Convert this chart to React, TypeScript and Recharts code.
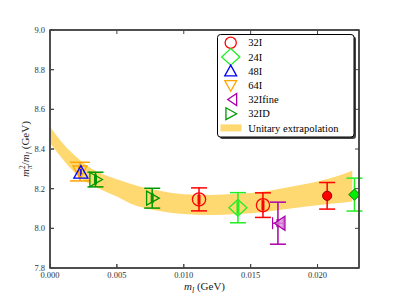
import React from "react";
import {
  Area,
  ComposedChart,
  ErrorBar,
  Label,
  Legend,
  Scatter,
  XAxis,
  YAxis,
} from "recharts";

// unitary extrapolation band (lower / upper edge)
const bandM = [0, 0.001, 0.002, 0.003, 0.004, 0.005, 0.006, 0.008, 0.01, 0.012, 0.014, 0.016, 0.018, 0.02, 0.022, 0.0226];
const bandLo = [8.43, 8.345, 8.272, 8.222, 8.19, 8.16, 8.125, 8.09, 8.072, 8.067, 8.072, 8.082, 8.1, 8.117, 8.13, 8.135];
const bandHi = [8.512, 8.425, 8.358, 8.305, 8.272, 8.248, 8.225, 8.192, 8.172, 8.168, 8.174, 8.186, 8.21, 8.236, 8.275, 8.292];

// ensembles
const m32I = [0.01114, 0.01592, 0.02072];
const v32I = [8.146, 8.117, 8.164];
const e32I = [0.058, 0.062, 0.067];
const s32I = [0.025, 0.025, 0.02];
const f32I = [false, false, true];

const m24I = [0.01405, 0.02276];
const v24I = [8.104, 8.17];
const e24I = [0.076, 0.083];
const s24I = [0.03, 0.02];
const f24I = [false, true];

const m48I = [0.00231];
const v48I = [8.281];
const e48I = [0.018];
const s48I = [0.012];

const m64I = [0.00224];
const v64I = [8.286];
const e64I = [0.047];
const s64I = [0.03];

const m32Ifine = [0.01704];
const v32Ifine = [8.026];
const e32Ifine = [0.106];
const s32Ifine = [0.02];
const x32Ifine = [0.0004];

const m32ID = [0.0034, 0.00764];
const v32ID = [8.246, 8.152];
const e32ID = [0.037, 0.05];
const s32ID = [0.025, 0.025];

const xDomain = [0, 0.0231];
const yDomain = [7.8, 9.0];
const xTicks = [0, 0.005, 0.01, 0.015, 0.02];
const yTicks = [7.8, 8.0, 8.2, 8.4, 8.6, 8.8, 9.0];

const legendNames = ["32I", "24I", "48I", "64I", "32Ifine", "32ID", "Unitary extrapolation"];

const bandData = bandM.map((m, i) => ({ m, band: [bandLo[i], bandHi[i]] }));

const build = (m: number[], v: number[], e: number[], s: number[], f?: boolean[], xe?: number[]) =>
  m.map((x, i) => ({ m: x, v: v[i], err: e[i], stat: s[i], filled: f ? f[i] : false, xerr: xe ? xe[i] : 0 }));

const d32I = build(m32I, v32I, e32I, s32I, f32I);
const d24I = build(m24I, v24I, e24I, s24I, f24I);
const d48I = build(m48I, v48I, e48I, s48I);
const d64I = build(m64I, v64I, e64I, s64I);
const d32Ifine = build(m32Ifine, v32Ifine, e32Ifine, s32Ifine, undefined, x32Ifine);
const d32ID = build(m32ID, v32ID, e32ID, s32ID);

const CHART_W = 399;
const CHART_H = 299;
const MARGIN = { top: 29, right: 39, bottom: 0, left: 0 };
const Y_AXIS_W = 50;
const X_AXIS_H = 31;
// plot box, derived from the chart layout above
const PLOT = {
  left: MARGIN.left + Y_AXIS_W,
  top: MARGIN.top + 1,
  right: CHART_W - MARGIN.right - 1,
  bottom: CHART_H - MARGIN.bottom - X_AXIS_H,
};

const RED = "#ff0000";
const LIME = "#22ee22";
const BLUE = "#0000ff";
const ORANGE = "#ffa500";
const PURPLE = "#aa00aa";
const GREEN = "#009900";
const BAND = "#fed870";
const SPINE = "#444444";
const TEXT = "#222222";
const SERIF = "Liberation Serif, DejaVu Serif, serif";

type Kind = "circle" | "diamond" | "up" | "down" | "left" | "right";

const Marker = ({ kind, cx, cy, color, filled, scale = 1 }: any) => {
  const sw = 1.3;
  if (kind === "circle") {
    if (filled) return <circle cx={cx} cy={cy} r={4.6} fill={RED} stroke="#a00000" strokeWidth={1} />;
    return <circle cx={cx} cy={cy} r={6.6 * scale} fill="none" stroke={color} strokeWidth={sw} />;
  }
  if (kind === "diamond") {
    if (filled) {
      const r = 5.6;
      return (
        <polygon
          points={`${cx},${cy - r} ${cx + r},${cy} ${cx},${cy + r} ${cx - r},${cy}`}
          fill="#00ee00"
          stroke="#007700"
          strokeWidth={1}
        />
      );
    }
    const rx = 9 * scale;
    const ry = 8.3 * scale;
    return (
      <polygon
        points={`${cx},${cy - ry} ${cx + rx},${cy} ${cx},${cy + ry} ${cx - rx},${cy}`}
        fill="none"
        stroke={color}
        strokeWidth={sw}
      />
    );
  }
  const r = 7 * scale;
  let pts = "";
  if (kind === "up") pts = `${cx},${cy - r} ${cx + r},${cy + r * 0.8} ${cx - r},${cy + r * 0.8}`;
  if (kind === "down") pts = `${cx},${cy + r} ${cx + r},${cy - r * 0.8} ${cx - r},${cy - r * 0.8}`;
  if (kind === "left") pts = `${cx - r * 0.5},${cy} ${cx + r},${cy - r} ${cx + r},${cy + r}`;
  if (kind === "right") pts = `${cx + r},${cy} ${cx - r * 0.8},${cy - r} ${cx - r * 0.8},${cy + r}`;
  const fill = kind === "left" && scale === 1 ? "#d98cd9" : "none";
  return <polygon points={pts} fill={fill} fillOpacity={0.75} stroke={color} strokeWidth={sw} />;
};

const shapeFor = (kind: Kind, color: string) => (p: any) =>
  <Marker kind={kind} cx={p.cx} cy={p.cy} color={color} filled={p.payload && p.payload.filled} />;

const legendKinds: Kind[] = ["circle", "diamond", "up", "down", "left", "right"];
const legendColors = [RED, LIME, BLUE, ORANGE, PURPLE, GREEN];

const px = (v: number) => PLOT.left + ((v - xDomain[0]) / (xDomain[1] - xDomain[0])) * (PLOT.right - PLOT.left);
const py = (v: number) => PLOT.bottom - ((v - yDomain[0]) / (yDomain[1] - yDomain[0])) * (PLOT.bottom - PLOT.top);

// overlay: axes frame with inward ticks, then the legend box
const renderLegend = () => (
  <svg width={CHART_W} height={CHART_H} style={{ display: "block", overflow: "visible", pointerEvents: "none" }}>
    <rect
      x={PLOT.left}
      y={PLOT.top}
      width={PLOT.right - PLOT.left}
      height={PLOT.bottom - PLOT.top}
      fill="none"
      stroke={SPINE}
      strokeWidth={1.5}
    />
    {xTicks.map((t) => (
      <g key={`x${t}`}>
        <line x1={px(t)} x2={px(t)} y1={PLOT.bottom} y2={PLOT.bottom - 4} stroke={SPINE} strokeWidth={1} />
        <line x1={px(t)} x2={px(t)} y1={PLOT.top} y2={PLOT.top + 4} stroke={SPINE} strokeWidth={1} />
      </g>
    ))}
    {yTicks.map((t) => (
      <g key={`y${t}`}>
        <line x1={PLOT.left} x2={PLOT.left + 4} y1={py(t)} y2={py(t)} stroke={SPINE} strokeWidth={1} />
        <line x1={PLOT.right} x2={PLOT.right - 4} y1={py(t)} y2={py(t)} stroke={SPINE} strokeWidth={1} />
      </g>
    ))}
    <g transform="translate(217 34)">
      <rect x={2.5} y={2.5} width={136.5} height={102.5} rx={3} fill="#444444" />
      <rect x={0.5} y={0.5} width={136.5} height={102.5} rx={3} fill="#ffffff" stroke="#000000" strokeWidth={1} />
      {legendNames.map((name, i) => {
        const cy = 8.7 + i * 14.2;
        return (
          <g key={name}>
            {i < 6 ? (
              <Marker kind={legendKinds[i]} cx={13.7} cy={cy} color={legendColors[i]} scale={i === 1 ? 1 : 0.85} />
            ) : (
              <rect x={3.5} y={cy - 3.5} width={21} height={7} fill={BAND} />
            )}
            <text x={31.3} y={cy + 3.6} fontFamily={SERIF} fontSize={10.5} fill="#000000">
              {name}
            </text>
          </g>
        );
      })}
    </g>
  </svg>
);

const XTitle = (props: any) => {
  const vb = props.viewBox || {};
  const cx = vb.x + vb.width / 2;
  return (
    <text x={cx} y={290} textAnchor="middle" fontFamily={SERIF} fontSize={11} fill={TEXT}>
      <tspan fontStyle="italic">m</tspan>
      <tspan fontStyle="italic" fontSize={8} dy={2.5}>l</tspan>
      <tspan dy={-2.5}> (GeV)</tspan>
    </text>
  );
};

const YTitle = (props: any) => {
  const vb = props.viewBox || {};
  const cx = 29;
  const cy = vb.y + vb.height / 2;
  return (
    <text
      transform={`rotate(-90 ${cx} ${cy})`}
      x={cx}
      y={cy}
      textAnchor="middle"
      fontFamily={SERIF}
      fontSize={11}
      fill={TEXT}
    >
      <tspan fontStyle="italic">m</tspan>
      <tspan fontSize={7.5} dy={-4.5}>2</tspan>
      <tspan fontSize={7.5} fontStyle="italic" dx={-3.8} dy={7.5}>π</tspan>
      <tspan dy={-3}>/</tspan>
      <tspan fontStyle="italic">m</tspan>
      <tspan fontSize={8} fontStyle="italic" dy={2.5}>l</tspan>
      <tspan dy={-2.5}> (GeV)</tspan>
    </text>
  );
};

const tickStyle = { fontSize: 8.5, fill: "#333333", fontFamily: SERIF };
const spine = { stroke: SPINE, strokeWidth: 1.5 };

const App = () => {
  return (
    <div style={{ position: "absolute", left: 0, top: 0, background: "#ffffff" }}>
      <ComposedChart width={CHART_W} height={CHART_H} data={bandData} margin={MARGIN}>
        <Area
          xAxisId="top"
          yAxisId="right"
          type="monotone"
          dataKey="band"
          fill={BAND}
          fillOpacity={1}
          stroke="none"
          isAnimationActive={false}
          activeDot={false}
          dot={false}
        />
        <Scatter data={d32I} shape={shapeFor("circle", RED)} isAnimationActive={false}>
          <ErrorBar dataKey="err" direction="y" width={8} stroke={RED} strokeWidth={1.5} />
          <ErrorBar dataKey="stat" direction="y" width={0} stroke={RED} strokeWidth={3} />
        </Scatter>
        <Scatter data={d24I} shape={shapeFor("diamond", LIME)} isAnimationActive={false}>
          <ErrorBar dataKey="err" direction="y" width={8} stroke={LIME} strokeWidth={1.5} />
          <ErrorBar dataKey="stat" direction="y" width={0} stroke={LIME} strokeWidth={3} />
        </Scatter>
        <Scatter data={d64I} shape={shapeFor("down", ORANGE)} isAnimationActive={false}>
          <ErrorBar dataKey="err" direction="y" width={10} stroke={ORANGE} strokeWidth={1.5} />
          <ErrorBar dataKey="stat" direction="y" width={0} stroke={ORANGE} strokeWidth={4} />
        </Scatter>
        <Scatter data={d48I} shape={shapeFor("up", BLUE)} isAnimationActive={false}>
          <ErrorBar dataKey="err" direction="y" width={0} stroke={BLUE} strokeWidth={1.5} />
        </Scatter>
        <Scatter data={d32Ifine} shape={shapeFor("left", PURPLE)} isAnimationActive={false}>
          <ErrorBar dataKey="err" direction="y" width={8} stroke={PURPLE} strokeWidth={1.5} />
          <ErrorBar dataKey="xerr" direction="x" width={6} stroke={PURPLE} strokeWidth={1.2} />
          <ErrorBar dataKey="stat" direction="y" width={0} stroke={PURPLE} strokeWidth={3} />
        </Scatter>
        <Scatter data={d32ID} shape={shapeFor("right", GREEN)} isAnimationActive={false}>
          <ErrorBar dataKey="err" direction="y" width={8} stroke={GREEN} strokeWidth={1.5} />
          <ErrorBar dataKey="stat" direction="y" width={0} stroke={GREEN} strokeWidth={3} />
        </Scatter>
        <XAxis
          dataKey="m"
          type="number"
          domain={xDomain}
          ticks={xTicks}
          allowDataOverflow
          height={X_AXIS_H}
          tickFormatter={(v: number) => v.toFixed(3)}
          tick={tickStyle}
          tickSize={-4}
          tickMargin={8}
          stroke={SPINE}
          axisLine={spine}
        >
          <Label content={<XTitle />} />
        </XAxis>
        <XAxis
          xAxisId="top"
          dataKey="m"
          orientation="top"
          type="number"
          domain={xDomain}
          ticks={xTicks}
          allowDataOverflow
          height={1}
          tick={false}
          tickSize={-4}
          stroke={SPINE}
          axisLine={spine}
        />
        <YAxis
          dataKey="v"
          type="number"
          domain={yDomain}
          ticks={yTicks}
          allowDataOverflow
          width={Y_AXIS_W}
          tickFormatter={(v: number) => v.toFixed(1)}
          tick={tickStyle}
          tickSize={-4}
          tickMargin={9}
          stroke={SPINE}
          axisLine={spine}
        >
          <Label content={<YTitle />} />
        </YAxis>
        <YAxis
          yAxisId="right"
          orientation="right"
          type="number"
          domain={yDomain}
          ticks={yTicks}
          allowDataOverflow
          width={1}
          tick={false}
          tickSize={-4}
          stroke={SPINE}
          axisLine={spine}
        />
        <Legend
          layout="vertical"
          align="center"
          verticalAlign="middle"
          content={renderLegend}
          wrapperStyle={{ left: 0, top: 0, width: CHART_W, height: CHART_H, pointerEvents: "none" }}
        />
      </ComposedChart>
    </div>
  );
};

export default App;
